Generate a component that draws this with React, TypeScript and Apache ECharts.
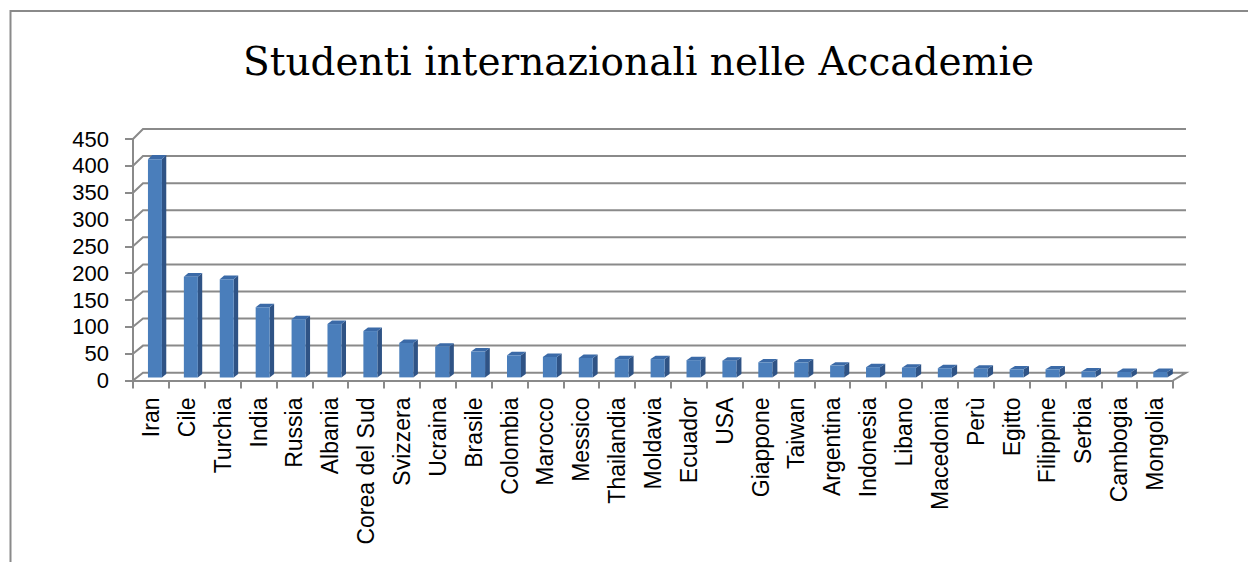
import React, { useEffect, useRef } from "react";
import * as echarts from "echarts";

const titleText = "Studenti internazionali nelle Accademie";

const categories = [
  "Iran", "Cile", "Turchia", "India", "Russia", "Albania", "Corea del Sud",
  "Svizzera", "Ucraina", "Brasile", "Colombia", "Marocco", "Messico",
  "Thailandia", "Moldavia", "Ecuador", "USA", "Giappone", "Taiwan",
  "Argentina", "Indonesia", "Libano", "Macedonia", "Perù", "Egitto",
  "Filippine", "Serbia", "Cambogia", "Mongolia",
];

const students = [
  405, 187, 182, 130, 108, 99, 86, 64, 57, 48, 41, 38, 36, 34, 34, 32, 31, 28,
  28, 22, 19, 18, 17, 16, 15, 15, 11, 10, 10,
];

const yMin = 0;
const yMax = 450;
const yStep = 50;
const yTicks = [0, 50, 100, 150, 200, 250, 300, 350, 400, 450];

const GRAY = "#8a8a8a";

// perspective depth of the floor/back wall
const dxAt = (x: number, xL: number, xR: number) => 10 + 3 * (x - xL) / (xR - xL);
const dyAt = (v: number) => 7.8 + 2.2 * v / yMax;

export default function App() {
  const ref = useRef<HTMLDivElement>(null);

  useEffect(() => {
    if (!ref.current) return;
    const chart = echarts.init(ref.current, null, { renderer: "svg" });

    const renderGrid = (params: any, api: any) => {
      const cs = params.coordSys;
      const xL = cs.x;
      const xR = cs.x + cs.width;
      const v = api.value(1);
      const y = api.coord([0, v])[1];
      const dy = dyAt(v);
      const pts: number[][] = [
        [xL, y],
        [xL + dxAt(xL, xL, xR), y - dy],
        [xR + dxAt(xR, xL, xR), y - dy],
      ];
      if (v === 0) pts.push([xR, y]);
      return {
        type: "polyline",
        shape: { points: pts },
        style: { stroke: GRAY, lineWidth: 2, fill: "none" },
        silent: true,
      };
    };

    const t0 = 0.4;
    const t1 = 0.83;
    const renderBar = (params: any, api: any) => {
      const cs = params.coordSys;
      const xL = cs.x;
      const xR = cs.x + cs.width;
      const i = api.value(0);
      const v = api.value(1);
      const base = api.coord([i, 0]);
      const topP = api.coord([i, v]);
      const cw = api.size([1, 0])[0];
      const w = cw * 0.39;
      const dx = dxAt(base[0], xL, xR);
      const x0 = base[0] - w / 2 + t0 * dx;
      const x1 = x0 + w;
      const yb = base[1] - t0 * dyAt(0);
      const yt = topP[1] - t0 * dyAt(v);
      const ddx = (t1 - t0) * dx;
      const ddyT = (t1 - t0) * dyAt(v);
      const ddyB = (t1 - t0) * dyAt(0);
      return {
        type: "group",
        children: [
          {
            type: "polygon",
            shape: { points: [[x1, yt], [x1 + ddx, yt - ddyT], [x1 + ddx, yb - ddyB], [x1, yb]] },
            style: { fill: "#2f5385" },
          },
          {
            type: "polygon",
            shape: { points: [[x0, yt], [x0 + ddx, yt - ddyT], [x1 + ddx, yt - ddyT], [x1, yt]] },
            style: { fill: "#3b6aa7" },
          },
          {
            type: "rect",
            shape: { x: x0, y: yt, width: w, height: yb - yt },
            style: { fill: "#4a7ebb" },
          },
        ],
      };
    };

    chart.setOption({
      animation: false,
      backgroundColor: "#ffffff",
      title: {
        text: titleText,
        left: 238,
        top: 37,
        textStyle: {
          fontFamily: "DejaVu Serif",
          fontSize: 39,
          fontWeight: "normal",
          color: "#000000",
        },
      },
      graphic: [
        {
          type: "polyline",
          shape: { points: [[10.5, 562], [10.5, 11], [1248, 11]] },
          style: { stroke: GRAY, lineWidth: 2, fill: "none" },
          silent: true,
        },
      ],
      grid: { left: 133, right: 75, top: 139, bottom: 181.5, containLabel: false },
      xAxis: {
        type: "category",
        data: categories,
        axisLine: { show: true, lineStyle: { color: GRAY, width: 2 } },
        axisTick: { show: true, interval: 0, length: 8, lineStyle: { color: GRAY, width: 2 } },
        axisLabel: {
          interval: 0,
          rotate: 90,
          margin: 17,
          color: "#000000",
          fontFamily: "Liberation Sans",
          fontSize: 23,
        },
        splitLine: { show: false },
      },
      yAxis: {
        type: "value",
        min: yMin,
        max: yMax,
        interval: yStep,
        axisLine: { show: true, lineStyle: { color: GRAY, width: 2 } },
        axisTick: { show: true, length: 8, lineStyle: { color: GRAY, width: 2 } },
        axisLabel: {
          margin: 24,
          color: "#000000",
          fontFamily: "Liberation Sans",
          fontSize: 22,
        },
        splitLine: { show: false },
      },
      series: [
        {
          type: "custom",
          name: "grid",
          renderItem: renderGrid,
          data: yTicks.map((v) => [0, v]),
          encode: { x: 0, y: 1 },
          z: 1,
          silent: true,
        },
        {
          type: "custom",
          name: "Studenti",
          renderItem: renderBar,
          data: students.map((v, i) => [i, v]),
          encode: { x: 0, y: 1 },
          z: 3,
        },
      ],
    });

    return () => chart.dispose();
  }, []);

  return (
    <div
      ref={ref}
      style={{ position: "fixed", left: 0, top: 0, width: 1248, height: 562 }}
    />
  );
}
